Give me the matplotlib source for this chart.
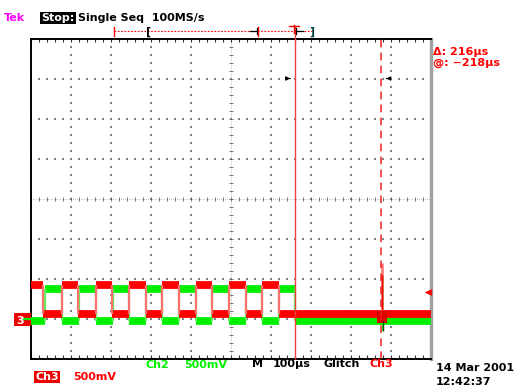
import matplotlib
matplotlib.use("Agg")
import matplotlib.pyplot as plt
from matplotlib.patches import Rectangle
import numpy as np

# ---- acquisition settings shown on screen
time_per_div = 100          # us
n_xdiv, n_ydiv = 10, 8

# Ch3 (red) edge times in us, trace starts high
ch3_edges = [0, 30, 77, 117, 162, 202, 245, 287, 327, 370, 412, 452, 495, 537, 577, 620, 1000]
ch3_hi, ch3_lo = -2.15, -2.88          # screen divisions
# Ch2 (green) edge times in us, trace starts low
ch2_edges = [0, 35, 77, 120, 162, 205, 245, 287, 327, 370, 412, 452, 495, 537, 577, 620, 660, 1000]
ch2_hi, ch2_lo = -2.25, -3.05

glitch_t = 877               # us
glitch_ch3 = (-2.88, -1.62)  # spike span, divisions
glitch_ch2 = (-3.3, -1.9)

cursor_a = 660               # us, solid cursor
cursor_b = 876               # us, dashed cursor

RED = "#ff0000"
PINK = "#ff7070"
GREEN = "#00f000"

W, H = 514, 388
fig = plt.figure(figsize=(W / 100, H / 100), dpi=100)
fig.patch.set_facecolor("white")

L, T, R, B = 31, 38.5, 431, 358.5
ax = fig.add_axes([L / W, 1 - B / H, (R - L) / W, (B - T) / H])
ax.set_xlim(0, n_xdiv * time_per_div)
ax.set_ylim(-n_ydiv / 2, n_ydiv / 2)
ax.set_xticks([])
ax.set_yticks([])
for s in ("left", "top", "bottom"):
    ax.spines[s].set_color("black")
    ax.spines[s].set_linewidth(1.4)
ax.spines["right"].set_color("#a0a0a0")
ax.spines["right"].set_linewidth(2.4)

# graticule: dotted division lines
xmaj = np.arange(1, n_xdiv) * time_per_div
ymaj = np.arange(-n_ydiv // 2 + 1, n_ydiv // 2)
xminor = np.arange(0, n_xdiv * 5 + 1) * time_per_div / 5
yminor = np.arange(-n_ydiv * 5 // 2, n_ydiv * 5 // 2 + 1) / 5
dot = dict(s=1.2, c="#808080", marker="s", linewidths=0, zorder=1)
for xv in xmaj:
    if xv == 500:
        continue
    ax.scatter(np.full_like(yminor, xv, dtype=float), yminor, **dot)
for yv in ymaj:
    if yv == 0:
        continue
    ax.scatter(xminor, np.full_like(xminor, yv, dtype=float), **dot)

# centre lines with tick marks
ax.axvline(500, color="#808080", lw=0.5, ls=(0, (1, 2)), zorder=1)
ax.axhline(0, color="#808080", lw=0.5, ls=(0, (1, 2)), zorder=1)
ax.scatter(np.full_like(yminor, 500.0), yminor, marker="_", s=9, c="#606060", linewidths=0.6, zorder=1)
ax.scatter(xminor, np.zeros_like(xminor), marker="|", s=9, c="#606060", linewidths=0.6, zorder=1)

# border ticks
tk = 0.08
ax.vlines(xminor, 4 - tk, 4, color="#303030", lw=0.8)
ax.vlines(xminor, -4, -4 + tk, color="#303030", lw=0.8)
ax.hlines(yminor, 0, tk * 12.5, color="#303030", lw=0.8)
ax.hlines(yminor, 1000 - tk * 12.5, 1000, color="#909090", lw=0.8)


def draw_square(edges, first, hi, lo, color, edge_color, z):
    lv = [hi, lo]
    state = 0 if first == "hi" else 1
    for a, b in zip(edges[:-1], edges[1:]):
        ax.hlines(lv[state], a, b, color=color, lw=5.6, zorder=z)
        state ^= 1
    ax.vlines(edges[1:-1], lo, hi, color=edge_color, lw=1.6, zorder=z)


draw_square(ch2_edges, "lo", ch2_hi, ch2_lo, GREEN, "#60f060", 3)
draw_square(ch3_edges, "hi", ch3_hi, ch3_lo, RED, PINK, 4)

# glitch
ax.vlines(glitch_t + 2, *glitch_ch2, color=GREEN, lw=1.2, zorder=3)
ax.vlines(glitch_t + 2, -3.3, -3.05, color="#005000", lw=1.0, zorder=5)
ax.vlines(glitch_t, *glitch_ch3, color=PINK, lw=1.8, zorder=4)
ax.vlines(glitch_t, -2.88, -1.9, color=RED, lw=1.0, zorder=4)
ax.fill_between([glitch_t - 12, glitch_t + 12], -3.1, -2.8, color="#e00000", lw=0, zorder=4)

# cursors
ax.vlines(cursor_a, -4, 4.32, color="#f04040", lw=1.0, zorder=6, clip_on=False)
ax.vlines(cursor_b, -4, 4, color="#f02020", lw=1.1, ls=(0, (5, 3.5)), zorder=6)
ax.annotate("", xy=(cursor_a - 5, 3), xytext=(cursor_a - 20, 3),
            arrowprops=dict(arrowstyle="-|>", color="black", lw=0.8, mutation_scale=6), zorder=7)
ax.annotate("", xy=(cursor_b + 5, 3), xytext=(cursor_b + 20, 3),
            arrowprops=dict(arrowstyle="-|>", color="black", lw=0.8, mutation_scale=6), zorder=7)

# trigger level arrow on the right
ax.annotate("", xy=(978, -2.35), xytext=(998, -2.35),
            arrowprops=dict(arrowstyle="-|>", color=RED, lw=1.0, mutation_scale=9), zorder=7)


def px(x, y):
    return x / W, 1 - y / H


font = dict(family="DejaVu Sans", fontweight="bold", fontsize=8.0)

# record-view bar above the graticule
bar_y = 31
fig.add_artist(plt.Line2D([114 / W, 313 / W], [1 - bar_y / H] * 2, color=RED, lw=0.8, ls=(0, (1.5, 1.5))))
for xx in (114, 258):
    fig.add_artist(plt.Line2D([xx / W] * 2, [1 - 27 / H, 1 - 36 / H], color=RED, lw=1.0))
fig.text(*px(146, 35), "[", color="black", **font)
fig.text(*px(309, 35), "]", color="#004040", **font)
fig.add_artist(plt.Line2D([294 / W] * 2, [1 - 25 / H, 1 - 33 / H], color=RED, lw=1.0))
fig.add_artist(plt.Line2D([289 / W, 299 / W], [1 - 26 / H] * 2, color=RED, lw=1.0))
for x0, x1 in ((250, 257), (303, 296)):
    fig.add_artist(plt.Line2D([x0 / W, x1 / W], [1 - bar_y / H] * 2, color="black", lw=0.9))
    fig.add_artist(plt.Line2D([x1 / W] * 2, [1 - (bar_y - 3) / H, 1 - (bar_y + 3) / H], color="black", lw=0.9))

# header
fig.text(*px(4, 21), "Tek", color="#ff00ff", **font)
fig.text(*px(41, 21), "Stop:", color="white",
         bbox=dict(facecolor="black", edgecolor="none", pad=1.0), **font)
fig.text(*px(78, 21), "Single Seq  100MS/s", color="black", **font)

# cursor readout
fig.text(*px(433, 55), "\u0394: 216\u00b5s", color=RED, **font)
fig.text(*px(433, 66), "@: \u2212218\u00b5s", color=RED, **font)

# channel ground marker
fig.add_artist(Rectangle((14 / W, 1 - 326 / H), 17 / W, 13 / H, facecolor="#ee0000",
                         edgecolor="none", transform=fig.transFigure))
fig.text(*px(16, 324), "3", color="white", **font)
fig.add_artist(plt.Line2D([24 / W, 30 / W], [1 - 319 / H] * 2, color=GREEN, lw=1.6))

# footer
fig.text(*px(145, 368), "Ch2", color=GREEN, **font)
fig.text(*px(184, 368), "500mV", color=GREEN, **font)
fig.text(*px(252, 367), "M", color="black", **font)
fig.text(*px(273, 367), "100\u00b5s", color="black", **font)
fig.text(*px(323, 367), "Glitch", color="black", **font)
fig.text(*px(369, 367), "Ch3", color=RED, **font)
fig.text(*px(35, 380), "Ch3", color="white",
         bbox=dict(facecolor="#ee0000", edgecolor="none", pad=0.8), **font)
fig.text(*px(73, 380), "500mV", color=RED, **font)
fig.text(*px(436, 371), "14 Mar 2001", color="black", **font)
fig.text(*px(436, 385), "12:42:37", color="black", **font)

fig.savefig("out.png", dpi=100)
